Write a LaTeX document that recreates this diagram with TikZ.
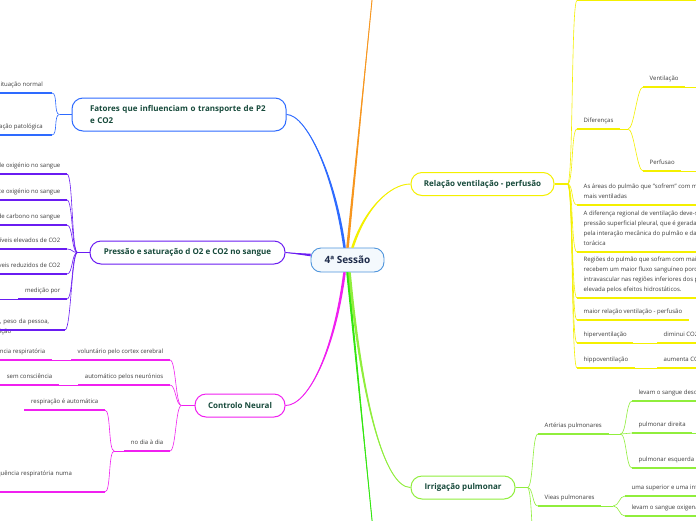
\documentclass[tikz,border=0pt]{standalone}
\usepackage{fontspec}
\setmainfont{Open Sans}
\usepackage{tikz}
\usetikzlibrary{positioning,calc}
\definecolor{rootcolor}{HTML}{4F95DC}
\definecolor{rootink}{HTML}{1E2B4A}
\definecolor{topicink}{HTML}{174A3B}
\definecolor{leafink}{HTML}{3D3D3D}
\definecolor{fatorescolor}{HTML}{2E6BFF}
\definecolor{pressaocolor}{HTML}{6A1CF2}
\definecolor{neuralcolor}{HTML}{F020F0}
\definecolor{relacaocolor}{HTML}{F4F000}
\definecolor{irrigacaocolor}{HTML}{90EE3C}
\definecolor{greencolor}{HTML}{33E610}
\definecolor{orangecolor}{HTML}{F7961E}
\tikzset{
  rootnode/.style={
    draw=rootcolor,
    line width=0.9pt,
    rounded corners=10pt,
    fill=rootcolor!6,
    text=rootink,
    font=\fontsize{10}{12}\selectfont\bfseries,
    minimum width=73pt,
    minimum height=24pt,
    inner sep=2pt
  },
  topicnode/.style={
    draw=#1,
    line width=1pt,
    rounded corners=11pt,
    fill=white,
    text=topicink,
    font=\fontsize{8}{11.5}\selectfont\bfseries,
    minimum height=23pt,
    inner xsep=12pt
  },
  leafnode/.style={
    text=leafink,
    font=\fontsize{6}{10}\selectfont,
    inner xsep=6.5pt,
    inner ysep=0pt,
    text depth=6.5pt,
    align=left
  },
  underline/.style={draw=#1, line width=1.8pt},
  branch/.style={draw=#1, line width=0.6pt},
  mainbranch/.style={draw=#1, line width=0.9pt},
  taper/.style={fill=#1, draw=none}
}
\begin{document}
\begin{tikzpicture}[x=1pt, y=-1pt]
  \useasboundingbox (0,0) rectangle (696,520);
  \clip (0,0) rectangle (696,520);
  \fill[white] (0,0) rectangle (696,520);

  % central and main topics
  \node[rootnode] (root) at (347.5,260) {4ª Sessão};
  \node[topicnode=fatorescolor, text width=178pt, align=left, inner xsep=18pt, minimum height=33pt] (fatores) at (179,114.5) {Fatores que influenciam o transporte de P2\\e CO2};
  \node[topicnode=pressaocolor, minimum width=195pt] (pressao) at (187.5,252.5) {Pressão e saturação d O2 e CO2 no sangue};
  \node[topicnode=neuralcolor, minimum width=90pt] (neural) at (240,405.5) {Controlo Neural};
  \node[topicnode=relacaocolor, minimum width=143pt] (relacao) at (482.5,184) {Relação ventilação - perfusão};
  \node[topicnode=irrigacaocolor, minimum width=104pt] (irrigacao) at (463,487.5) {Irrigação pulmonar};
  \coordinate (toptopic) at (374,-20);
  \coordinate (bottomtopic) at (374,540);

  % main branches, thick at the centre and thin at the topic
  \fill[taper=orangecolor] ([xshift=-1.3pt]root.north) -- (toptopic) -- ([xshift=1.3pt]root.north) -- cycle;
  \draw[mainbranch=orangecolor] (root.north) -- (toptopic);
  \fill[taper=greencolor] ([xshift=-1.3pt]root.south) -- (bottomtopic) -- ([xshift=1.3pt]root.south) -- cycle;
  \draw[mainbranch=greencolor] (root.south) -- (bottomtopic);
  \fill[taper=fatorescolor] ([xshift=-4.3pt]root.north) .. controls +(-10,-73) and +(20,0) .. (fatores.east) .. controls +(20,0) and +(-10,-73) .. ([xshift=-1.7pt]root.north) -- cycle;
  \draw[mainbranch=fatorescolor] ([xshift=-3pt]root.north) .. controls +(-10,-73) and +(20,0) .. (fatores.east);
  \fill[taper=relacaocolor] ([xshift=3.7pt]root.north) .. controls +(12,-38) and +(-21,0) .. (relacao.west) .. controls +(-21,0) and +(12,-38) .. ([xshift=6.3pt]root.north) -- cycle;
  \draw[mainbranch=relacaocolor] ([xshift=5pt]root.north) .. controls +(12,-38) and +(-21,0) .. (relacao.west);
  \fill[taper=pressaocolor] ([yshift=6.3pt]root.west) -- (pressao.east) -- ([yshift=3.7pt]root.west) -- cycle;
  \draw[mainbranch=pressaocolor] ([yshift=5pt]root.west) -- (pressao.east);
  \fill[taper=neuralcolor] ([xshift=-4.3pt]root.south) .. controls +(-10,78) and +(23,0) .. (neural.east) .. controls +(23,0) and +(-10,78) .. ([xshift=-1.7pt]root.south) -- cycle;
  \draw[mainbranch=neuralcolor] ([xshift=-3pt]root.south) .. controls +(-10,78) and +(23,0) .. (neural.east);
  \fill[taper=irrigacaocolor] ([xshift=0.7pt]root.south) .. controls +(12,128) and +(-26,0) .. (irrigacao.west) .. controls +(-26,0) and +(12,128) .. ([xshift=3.3pt]root.south) -- cycle;
  \draw[mainbranch=irrigacaocolor] ([xshift=2pt]root.south) .. controls +(12,128) and +(-26,0) .. (irrigacao.west);

  % Relacao ventilacao - perfusao
  \coordinate (relacaoJ) at ([xshift=13pt]relacao.east);
  \node[leafnode, anchor=south west, minimum width=93pt] (reltop) at (577,0.5) {};
  \node[leafnode, anchor=south west] (diferencas) at (577,129) {Diferenças};
  \node[leafnode, anchor=south west] (ventilacao) at (643,87) {Ventilação};
  \node[leafnode, anchor=south west] (perfusao) at (643,171) {Perfusao};
  \node[leafnode, anchor=south west] (areas) at (577,205) {As áreas do pulmão que "sofrem" com maior pressão negativa são as\\mais ventiladas};
  \node[leafnode, anchor=south west] (diferenca) at (577,252) {A diferença regional de ventilação deve-se à\\pressão superficial pleural, que é gerada\\pela interação mecânica do pulmão e da caixa\\torácica};
  \node[leafnode, anchor=south west] (regioes) at (577,298) {Regiões do pulmão que sofram com maior pressão\\recebem um maior fluxo sanguíneo porque a pressão\\intravascular nas regiões inferiores dos pulmões é\\elevada pelos efeitos hidrostáticos.};
  \node[leafnode, anchor=south west] (maior) at (577,320) {maior relação ventilação - perfusão};
  \node[leafnode, anchor=south west] (hiper) at (577,343) {hiperventilação};
  \node[leafnode, anchor=south west] (diminui) at (657,343) {diminui CO2 - hipocapnia};
  \node[leafnode, anchor=south west] (hipo) at (577,368) {hippoventilação};
  \node[leafnode, anchor=south west] (aumenta) at (657,368) {aumenta CO2 - hipercapnia};
  \coordinate (diferencasJ) at ([xshift=8pt]diferencas.south east);
  \coordinate (reltopC) at (720,0.5);
  \coordinate (ventilacaoC) at (720,87);
  \coordinate (perfusaoC) at (720,171);

  \draw[underline=relacaocolor] (relacao.east) -- (relacaoJ);
  \foreach \n in {reltop,diferencas,areas,diferenca,regioes,maior,hiper,hipo}
    \draw[branch=relacaocolor] (relacaoJ) .. controls +(6,0) and +(-6,0) .. (\n.south west);
  \draw[branch=relacaocolor] (diferencas.south east) -- (diferencasJ);
  \foreach \n in {ventilacao,perfusao}
    \draw[branch=relacaocolor] (diferencasJ) .. controls +(6,0) and +(-6,0) .. (\n.south west);
  \draw[branch=relacaocolor] (reltop.south east) -- (reltopC);
  \draw[branch=relacaocolor] (ventilacao.south east) -- (ventilacaoC);
  \draw[branch=relacaocolor] (perfusao.south east) -- (perfusaoC);
  \draw[branch=relacaocolor] (hiper.south east) -- (diminui.south west);
  \draw[branch=relacaocolor] (hipo.south east) -- (aumenta.south west);
  \foreach \n in {reltop,diferencas,ventilacao,perfusao,areas,diferenca,regioes,maior,hiper,diminui,hipo,aumenta}
    \draw[underline=relacaocolor] (\n.south west) -- (\n.south east);

  % Irrigacao pulmonar
  \coordinate (irrigacaoJ) at ([xshift=12pt]irrigacao.east);
  \node[leafnode, anchor=south west] (arterias) at (538,434) {Artérias pulmonares};
  \node[leafnode, anchor=south west] (vieas) at (538,506) {Vieas pulmonares};
  \coordinate (irrlow) at (538,600);
  \node[leafnode, anchor=south west] (desoxigenado) at (632,401) {levam o sangue desoxigenado};
  \node[leafnode, anchor=south west] (direita) at (632,433) {pulmonar direita};
  \node[leafnode, anchor=south west] (esquerda) at (632,468) {pulmonar esquerda};
  \node[leafnode, anchor=south west] (superior) at (625,496) {uma superior e uma inferior};
  \node[leafnode, anchor=south west] (oxigenado) at (625,516) {levam o sangue oxigenado};
  \coordinate (arteriasJ) at ([xshift=12pt]arterias.south east);
  \coordinate (vieasJ) at ([xshift=12pt]vieas.south east);
  \coordinate (direitaC) at (720,433);
  \coordinate (esquerdaC) at (720,468);

  \draw[underline=irrigacaocolor] (irrigacao.east) -- (irrigacaoJ);
  \foreach \n in {arterias.south west,vieas.south west,irrlow}
    \draw[branch=irrigacaocolor] (irrigacaoJ) .. controls +(6,0) and +(-6,0) .. (\n);
  \draw[branch=irrigacaocolor] (arterias.south east) -- (arteriasJ);
  \draw[branch=irrigacaocolor] (vieas.south east) -- (vieasJ);
  \foreach \n in {desoxigenado,direita,esquerda}
    \draw[branch=irrigacaocolor] (arteriasJ) .. controls +(6,0) and +(-6,0) .. (\n.south west);
  \foreach \n in {superior,oxigenado}
    \draw[branch=irrigacaocolor] (vieasJ) .. controls +(6,0) and +(-6,0) .. (\n.south west);
  \draw[branch=irrigacaocolor] (direita.south east) -- (direitaC);
  \draw[branch=irrigacaocolor] (esquerda.south east) -- (esquerdaC);
  \foreach \n in {arterias,vieas,desoxigenado,direita,esquerda,superior,oxigenado}
    \draw[underline=irrigacaocolor] (\n.south west) -- (\n.south east);

  % Fatores que influenciam o transporte
  \coordinate (fatoresJ) at ([xshift=-12pt]fatores.west);
  \node[leafnode, anchor=south east, inner xsep=9pt] (normal) at (52,93) {situação normal};
  \node[leafnode, anchor=south east, inner xsep=9pt] (patologica) at (52,135) {situação patológica};
  \draw[underline=fatorescolor] (fatores.west) -- (fatoresJ);
  \foreach \n in {normal,patologica}
    \draw[branch=fatorescolor] (fatoresJ) .. controls +(-6,0) and +(6,0) .. (\n.south east);
  \foreach \n in {normal,patologica}
    \draw[underline=fatorescolor] (\n.south west) -- (\n.south east);

  % Pressao e saturacao
  \coordinate (pressaoJ) at ([xshift=-12pt]pressao.west);
  \node[leafnode, anchor=south east] (baixooxi) at (67,174) {de oxigénio no sangue};
  \node[leafnode, anchor=south east] (suficiente) at (67,200) {suficiente oxigénio no sangue};
  \node[leafnode, anchor=south east] (carbono) at (67,225) {de carbono no sangue};
  \node[leafnode, anchor=south east] (elevados) at (67,249) {níveis elevados de CO2};
  \node[leafnode, anchor=south east] (reduzidos) at (67,274) {níveis reduzidos de CO2};
  \node[leafnode, anchor=south east] (medicao) at (67,299) {medição por};
  \node[leafnode, anchor=south east, text width=74pt] (peso) at (65,330) {idade, peso da pessoa,\\e posição};
  \coordinate (medicaoC) at (-30,299);
  \draw[underline=pressaocolor] (pressao.west) -- (pressaoJ);
  \foreach \n in {baixooxi,suficiente,carbono,elevados,reduzidos,medicao,peso}
    \draw[branch=pressaocolor] (pressaoJ) .. controls +(-6,0) and +(6,0) .. (\n.south east);
  \draw[branch=pressaocolor] (medicao.south west) -- (medicaoC);
  \foreach \n in {baixooxi,suficiente,carbono,elevados,reduzidos,medicao,peso}
    \draw[underline=pressaocolor] (\n.south west) -- (\n.south east);

  % Controlo Neural
  \coordinate (neuralJ) at ([xshift=-13pt]neural.west);
  \node[leafnode, anchor=south east] (voluntario) at (170,360) {voluntário pelo cortex cerebral};
  \node[leafnode, anchor=south east] (automatico) at (170,385) {automático pelos neurónios};
  \node[leafnode, anchor=south east] (diadia) at (170,451) {no dia à dia};
  \node[leafnode, anchor=south east] (frequencia) at (52,360) {frequência respiratória};
  \node[leafnode, anchor=south east] (semconsc) at (59,385) {sem consciência};
  \node[leafnode, anchor=south east] (respiracao) at (105,410) {respiração é automática};
  \node[leafnode, anchor=south east, text depth=16pt, text width=109pt] (numa) at (105,492) {frequência respiratória numa};
  \coordinate (diadiaJ) at ([xshift=-10pt]diadia.south west);
  \draw[underline=neuralcolor] (neural.west) -- (neuralJ);
  \foreach \n in {voluntario,automatico,diadia}
    \draw[branch=neuralcolor] (neuralJ) .. controls +(-6,0) and +(6,0) .. (\n.south east);
  \draw[branch=neuralcolor] (voluntario.south west) -- (frequencia.south east);
  \draw[branch=neuralcolor] (automatico.south west) -- (semconsc.south east);
  \draw[branch=neuralcolor] (diadia.south west) -- (diadiaJ);
  \foreach \n in {respiracao,numa}
    \draw[branch=neuralcolor] (diadiaJ) .. controls +(-6,0) and +(6,0) .. (\n.south east);
  \foreach \n in {voluntario,automatico,diadia,frequencia,semconsc,respiracao,numa}
    \draw[underline=neuralcolor] (\n.south west) -- (\n.south east);
\end{tikzpicture}
\end{document}
